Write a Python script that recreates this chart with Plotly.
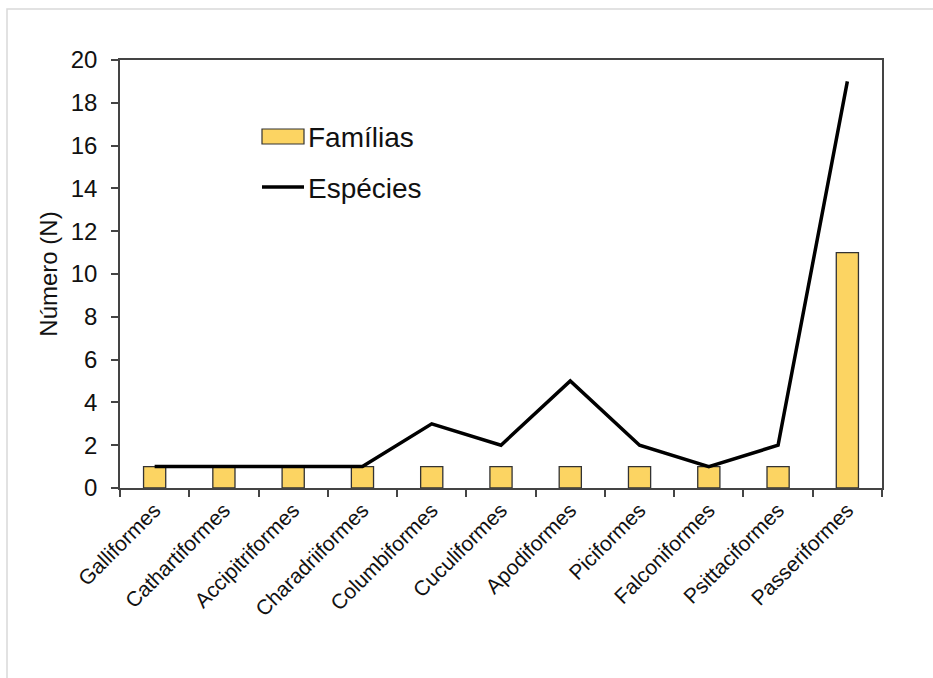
import plotly.graph_objects as go

# Bird orders and counts per order
ordens = ["Galliformes", "Cathartiformes", "Accipitriformes", "Charadriiformes",
          "Columbiformes", "Cuculiformes", "Apodiformes", "Piciformes",
          "Falconiformes", "Psittaciformes", "Passeriformes"]
familias = [1, 1, 1, 1, 1, 1, 1, 1, 1, 1, 11]
especies = [1, 1, 1, 1, 3, 2, 5, 2, 1, 2, 19]

FONT = "Liberation Sans, Arial, sans-serif"
BAR_COLOR = "#FCD462"
TXT = "#111111"

# plot area in pixels (for placing the hand-drawn legend and outer frame)
L, R, T, B = 120, 51, 60, 190
W, H = 933, 678
PW, PH = W - L - R, H - T - B


def px_x(x):
    return (x - L) / PW


def px_y(y):
    return (H - B - y) / PH


fig = go.Figure()
fig.add_trace(go.Bar(
    x=ordens, y=familias, name="Famílias",
    marker=dict(color=BAR_COLOR, line=dict(color="#333333", width=1.3)),
    showlegend=False,
))
fig.add_trace(go.Scatter(
    x=ordens, y=especies, name="Espécies", mode="lines",
    line=dict(color="#000000", width=3.5),
    showlegend=False,
))

shapes = [
    # outer light frame
    dict(type="rect", xref="paper", yref="paper",
         x0=px_x(7), x1=px_x(945), y0=px_y(700), y1=px_y(9),
         line=dict(color="#D9D9D9", width=1.5), fillcolor="rgba(0,0,0,0)", layer="below"),
    # legend swatches
    dict(type="rect", xref="paper", yref="paper",
         x0=px_x(262), x1=px_x(304), y0=px_y(144), y1=px_y(129),
         line=dict(color="#333333", width=1.2), fillcolor=BAR_COLOR),
    dict(type="line", xref="paper", yref="paper",
         x0=px_x(262), x1=px_x(304), y0=px_y(187), y1=px_y(187),
         line=dict(color="#000000", width=3.5)),
]

annotations = [
    dict(text="Famílias", xref="paper", yref="paper", x=px_x(306), y=px_y(137),
         xanchor="left", yanchor="middle", showarrow=False,
         font=dict(family=FONT, size=28, color=TXT)),
    dict(text="Espécies", xref="paper", yref="paper", x=px_x(306), y=px_y(188),
         xanchor="left", yanchor="middle", showarrow=False,
         font=dict(family=FONT, size=28, color=TXT)),
]

fig.update_layout(
    width=W, height=H,
    margin=dict(l=L, r=R, t=T, b=B),
    paper_bgcolor="white", plot_bgcolor="white",
    bargap=0.68,
    shapes=shapes,
    annotations=annotations,
    font=dict(family=FONT, color=TXT),
)

fig.update_xaxes(
    showline=True, linecolor="#444444", linewidth=1.5, mirror=True,
    ticks="outside", ticklen=7, tickcolor="#444444", tickwidth=1.5,
    tickson="boundaries", tickangle=-45,
    tickfont=dict(family=FONT, size=21, color=TXT),
    showgrid=False, zeroline=False,
)
fig.update_yaxes(
    range=[0, 20], dtick=2,
    showline=True, linecolor="#444444", linewidth=1.5, mirror=True,
    ticks="outside", ticklen=7, tickcolor="#444444", tickwidth=1.5,
    tickfont=dict(family=FONT, size=24, color=TXT),
    ticklabelstandoff=9,
    title=dict(text="Número (N)", font=dict(family=FONT, size=24, color=TXT), standoff=6),
    showgrid=False, zeroline=False,
)

fig.write_html("out.html")
